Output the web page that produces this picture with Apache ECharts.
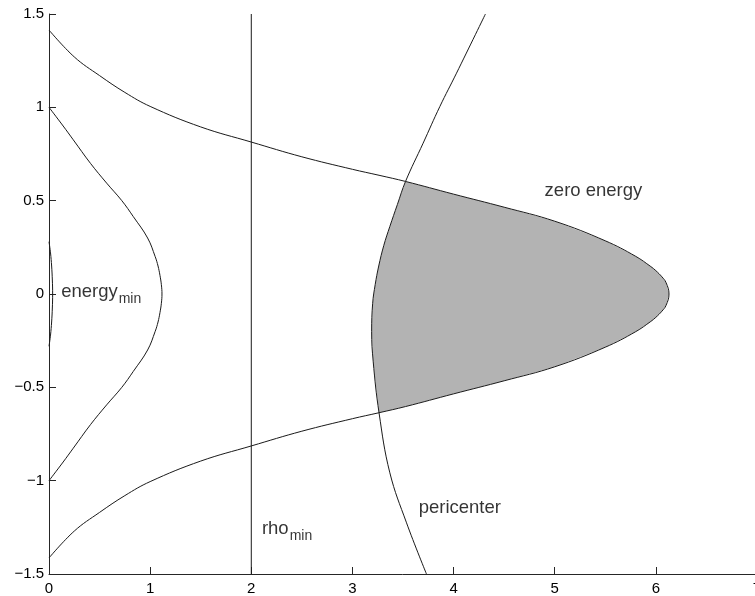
<!DOCTYPE html>
<html>
<head>
<meta charset="utf-8">
<script src="https://cdn.jsdelivr.net/npm/echarts@6/dist/echarts.min.js"></script>
<style>
html,body{margin:0;padding:0;background:#fff;}
#chart{width:755px;height:596px;}
</style>
</head>
<body>
<div id="chart"></div>
<script>
// ---- data ----
const xRange = [0, 7];
const yRange = [-1.5, 1.5];

// zero-energy curve, upper branch (x ascending, ends at the tip)
const zeroEnergyUpper = [
  [0, 1.414], [0.25, 1.27], [0.5, 1.17], [0.75, 1.08], [1, 1.005], [1.5, 0.895],
  [2, 0.814], [2.5, 0.735], [3, 0.668], [3.263, 0.636], [3.525, 0.603], [4, 0.535],
  [4.5, 0.465], [5, 0.39], [5.5, 0.285], [5.8, 0.202], [5.95, 0.147], [6.0, 0.125],
  [6.06, 0.092], [6.1, 0.062], [6.13, 0]
];
// zero-energy curve, lower branch (x ascending, ends at the tip)
const zeroEnergyLower = [
  [0, -1.414], [0.25, -1.27], [0.5, -1.17], [0.75, -1.08], [1, -1.005], [1.5, -0.895],
  [2, -0.814], [2.5, -0.735], [3, -0.668], [3.263, -0.636], [3.525, -0.603], [4, -0.535],
  [4.5, -0.465], [5, -0.39], [5.5, -0.285], [5.8, -0.202], [5.95, -0.147], [6.0, -0.125],
  [6.06, -0.092], [6.1, -0.062], [6.13, 0]
];
// energy_min curve (top to bottom)
const energyMin = [
  [0, 1], [0.14, 0.9], [0.24, 0.826], [0.41, 0.7], [0.57, 0.594], [0.72, 0.5],
  [0.833, 0.415], [0.975, 0.3], [1.05, 0.2], [1.078, 0.15], [1.097, 0.1], [1.111, 0.05], [1.117, 0],
  [1.111, -0.05], [1.097, -0.1], [1.078, -0.15], [1.05, -0.2], [0.975, -0.3], [0.833, -0.415], [0.72, -0.5],
  [0.57, -0.594], [0.41, -0.7], [0.24, -0.826], [0.14, -0.9], [0, -1]
];
// small curve hugging the y axis
const innerCurve = [
  [0, 0.28], [0.015, 0.22], [0.026, 0.15], [0.033, 0.075], [0.036, 0],
  [0.033, -0.075], [0.026, -0.15], [0.015, -0.22], [0, -0.28]
];
// pericenter curve (bottom to top)
const pericenter = [
  [3.732, -1.5], [3.535, -1.226], [3.37, -0.958], [3.263, -0.636], [3.205, -0.36],
  [3.19, -0.2], [3.2, -0.05], [3.225, 0.05], [3.26, 0.15], [3.31, 0.26], [3.37, 0.362],
  [3.445, 0.48], [3.525, 0.603], [3.699, 0.808], [3.864, 1.004], [4.029, 1.183], [4.315, 1.5]
];
// rho_min vertical line
const rhoMin = [[2, -1.5], [2, 1.5]];

// text annotations: main text, subscript, anchor (data coords, left-middle)
const annotations = [
  { text: 'energy', sub: 'min', at: [0.12, 0.01] },
  { text: 'rho', sub: 'min', at: [2.105, -1.26] },
  { text: 'zero energy', sub: '', at: [4.9, 0.55] },
  { text: 'pericenter', sub: '', at: [3.655, -1.145] }
];

// ---- build helpers ----
const zeroEnergyCurve = zeroEnergyUpper.concat(zeroEnergyLower.slice(0, -1).reverse());

const periLow = zeroEnergyLower.find(p => p[0] === 3.263)[1];
const periHigh = zeroEnergyUpper.find(p => p[0] === 3.525)[1];
const fillPolygon = []
  .concat(pericenter.filter(p => p[1] >= periLow && p[1] <= periHigh))
  .concat(zeroEnergyUpper.filter(p => p[0] > 3.525))
  .concat(zeroEnergyLower.filter(p => p[0] >= 3.263 && p[0] < 6.13).reverse());

const FONT = 'Liberation Sans, Arial, Helvetica, sans-serif';
const lineColor = '#1a1a1a';

function lineSeries(data, smooth) {
  return {
    type: 'line', data: data, showSymbol: false, symbol: 'none', smooth: smooth,
    lineStyle: { color: lineColor, width: 1 }, silent: true, z: 3
  };
}

const chart = echarts.init(document.getElementById('chart'), null, { renderer: 'canvas' });
chart.setOption({
  animation: false,
  backgroundColor: '#fff',
  grid: { left: 49, top: 14, width: 708, height: 560, containLabel: false, outerBoundsMode: 'none' },
  xAxis: {
    type: 'value', min: xRange[0], max: xRange[1], interval: 1,
    axisLine: { show: true, onZero: false, lineStyle: { color: '#262626', width: 1 } },
    axisTick: { show: true, inside: true, length: 7, lineStyle: { color: '#262626' } },
    axisLabel: { fontSize: 15, color: '#000', margin: 7, fontFamily: FONT },
    splitLine: { show: false }
  },
  yAxis: {
    type: 'value', min: yRange[0], max: yRange[1], interval: 0.5,
    axisLine: { show: true, onZero: false, lineStyle: { color: '#262626', width: 1 } },
    axisTick: { show: true, inside: true, length: 7, lineStyle: { color: '#262626' } },
    axisLabel: {
      fontSize: 15, color: '#000', margin: 5, fontFamily: FONT,
      formatter: v => (v < 0 ? '\u2212' + Math.abs(v) : String(v))
    },
    splitLine: { show: false }
  },
  series: [
    {
      type: 'custom', silent: true, z: 1,
      data: [fillPolygon[0]],
      encode: { x: 0, y: 1 },
      renderItem: function (params, api) {
        if (params.dataIndex !== 0) return;
        return {
          type: 'polygon',
          shape: { points: fillPolygon.map(p => api.coord(p)) },
          style: { fill: '#b3b3b3', stroke: null }
        };
      }
    },
    lineSeries(zeroEnergyCurve, 0.4),
    lineSeries(energyMin, 0.4),
    lineSeries(innerCurve, 0.4),
    lineSeries(pericenter, 0.4),
    lineSeries(rhoMin, false),
    {
      type: 'scatter', silent: true, symbolSize: 0, z: 5,
      data: annotations.map(a => ({ value: a.at, main: a.text, sub: a.sub })),
      label: {
        show: true, position: 'right', distance: 0, color: '#000',
        formatter: p => '{m|' + p.data.main + '}' + (p.data.sub ? '{s|' + p.data.sub + '}' : ''),
        rich: {
          m: { fontSize: 18.5, fontFamily: FONT, color: '#000' },
          s: { fontSize: 14, fontFamily: FONT, color: '#000', padding: [14, 0, 0, 1] }
        }
      }
    }
  ]
});
</script>
</body>
</html>
